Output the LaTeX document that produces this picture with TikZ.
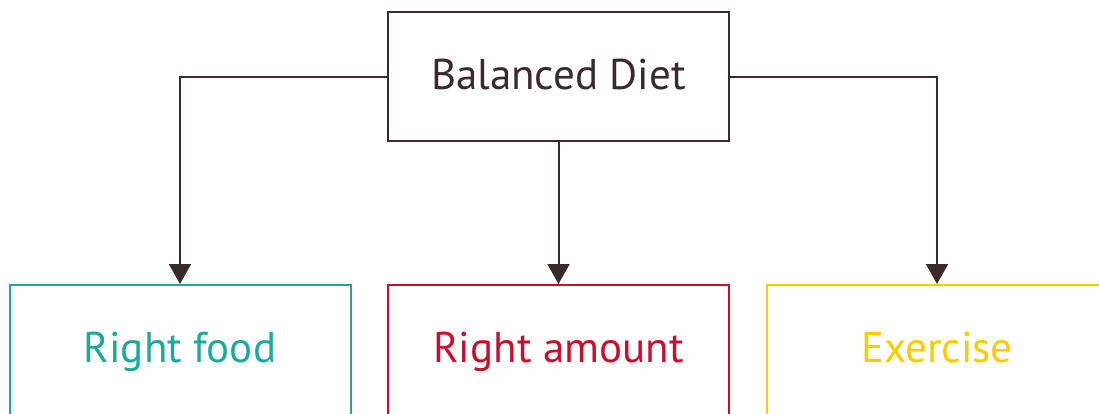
\documentclass[tikz,border=0pt]{standalone}
\usepackage{fontspec}
\setmainfont{PT Sans}
\usetikzlibrary{arrows.meta}
\definecolor{ink}{HTML}{3A2A2D}
\definecolor{teal}{HTML}{1AAB9B}
\definecolor{crimson}{HTML}{C8102E}
\definecolor{gold}{HTML}{FCCB00}
\begin{document}
\begin{tikzpicture}[x=1pt,y=-1pt,
  box/.style={draw, line width=2pt, minimum width=341pt, inner sep=0pt},
  link/.style={draw=ink, line width=2pt, -{Triangle[width=22pt,length=20pt]}},
  label/.style={font=\fontsize{43}{50}\selectfont, anchor=base, inner sep=0pt}]
\useasboundingbox (0,0) rectangle (1099,413);
\begin{scope}
\clip (0,0) rectangle (1099,413);
\node[box, draw=ink, minimum height=129pt] (top) at (558.5,76.5) {};
\node[label, text=ink] (topText) at (558.5,89) {Balanced Diet};
\node[box, draw=teal, minimum height=200pt] (food) at (180,385) {};
\node[box, draw=crimson, minimum height=200pt] (amount) at (558.5,385) {};
\node[box, draw=gold, minimum height=200pt] (exercise) at (937,385) {};
\node[label, text=teal] (foodText) at (180,362) {Right food};
\node[label, text=crimson] (amountText) at (558.5,362) {Right amount};
\node[label, text=gold] (exerciseText) at (937,362) {Exercise};
\draw[link] (top.west) -| (food.north);
\draw[link] (top.south) -- (amount.north);
\draw[link] (top.east) -| (exercise.north);
\end{scope}
\end{tikzpicture}
\end{document}
